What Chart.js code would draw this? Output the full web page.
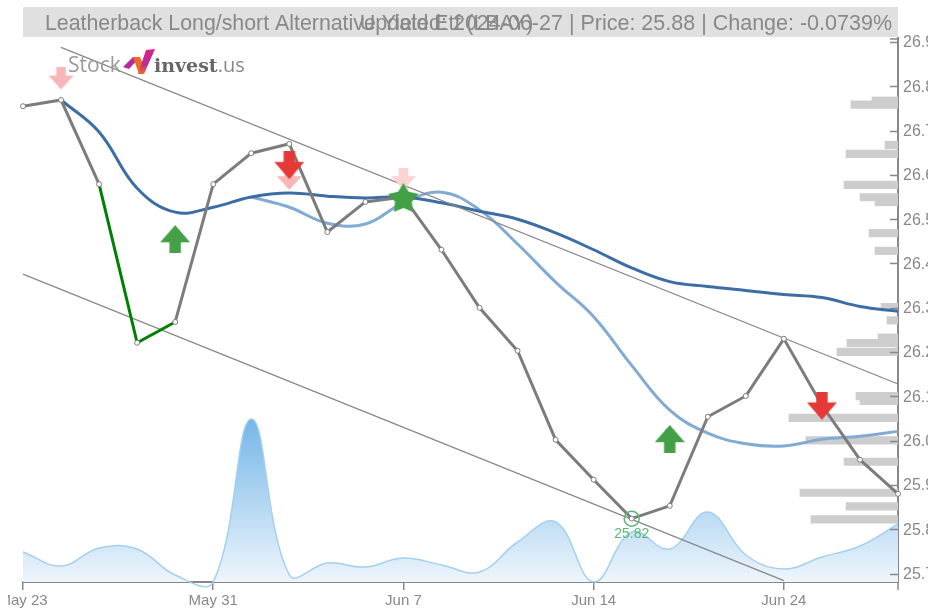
<!DOCTYPE html>
<html>
<head>
<meta charset="utf-8">
<style>
  html, body { margin: 0; padding: 0; background: #fff; overflow: hidden; }
  #chart_container { position: absolute; left: 8px; top: 0; width: 920px; height: 610px; }
</style>
</head>
<body>
<canvas id="chart_container" width="920" height="610"></canvas>
<script src="https://cdn.jsdelivr.net/npm/chart.js@4/dist/chart.umd.min.js"></script>
<script>
const dates = ['May 23', 'May 24', 'May 28', 'May 29', 'May 30', 'May 31', 'Jun 3', 'Jun 4', 'Jun 5', 'Jun 6', 'Jun 7', 'Jun 10',
  'Jun 11', 'Jun 12', 'Jun 13', 'Jun 14', 'Jun 17', 'Jun 18', 'Jun 20', 'Jun 21', 'Jun 24', 'Jun 25', 'Jun 26', 'Jun 27']
const date_ticks = [0, 5, 10, 15, 20]
const price_ticks = [25.7, 25.8, 25.9, 26.0, 26.1, 26.2, 26.3, 26.4, 26.5, 26.6, 26.7, 26.8, 26.9]

const close_price = [26.755, 26.769, 26.579, 26.221, 26.268, 26.579, 26.649, 26.67, 26.471, 26.539, 26.55, 26.431,
  26.30, 26.203, 26.002, 25.912, 25.824, 25.853, 26.054, 26.101, 26.23, 26.08, 25.957, 25.88]
const slow_ma = [null, 26.769, 26.697, 26.57, 26.516, 26.527, 26.55, 26.559, 26.552, 26.548, 26.55, 26.537, 26.518,
  26.50, 26.469, 26.431, 26.39, 26.359, 26.348, 26.339, 26.33, 26.323, 26.303, 26.292]
const fast_ma = [null, null, null, null, null, null, 26.55, 26.527, 26.491, 26.489, 26.537, 26.561, 26.521,
  26.444, 26.358, 26.28, 26.17, 26.069, 26.017, 25.993, 25.988, 26.003, 26.01, 26.021]
const volume = [300, 160, 340, 330, 70, 0, 1630, 70, 190, 150, 240, 170, 100, 400, 600, 0, 500, 330, 700, 270, 130, 250, 360, 580]

const upper_trend = [null, 26.888, null, null, null, null, null, null, null, null, null, null,
  null, null, null, null, null, null, null, null, null, null, null, 26.128]
const lower_trend = [26.376, null, null, null, null, null, null, null, null, null, null, null,
  null, null, null, null, null, null, null, null, 25.684]

const profile_price = [26.776, 26.767, 26.676, 26.656, 26.586, 26.558, 26.547, 26.477, 26.437, 26.31, 26.28, 26.241,
  26.229, 26.209, 26.109, 26.098, 26.06, 26.009, 25.961, 25.891, 25.86, 25.831]
const profile_volume = [26, 47, 13, 52, 54, 38, 23, 29, 23, 17, 11, 20, 51, 61, 42, 38, 109, 92, 54, 98, 52, 87]

const buy_signal = [null, null, null, null, 26.455, null, null, null, null, null, null, null,
  null, null, null, null, null, 26.004]
const sell_signal = [null, null, null, null, null, null, null, 26.622, null, null, null, null,
  null, null, null, null, null, null, null, null, null, 26.079]
const weak_sell = [null, 26.818, null, null, null, null, null, 26.591]
const faint_sell = [null, null, null, null, null, null, null, null, null, null, 26.591]
const star_signal = [null, null, null, null, null, null, null, null, null, null, 26.548]
const low_marker = [null, null, null, null, null, null, null, null, null, null, null, null,
  null, null, null, null, 25.824]
const green_segments = [2, 3]

const title_left = 'Leatherback Long/short Alternative Yield Etf (LBAY)'
const title_right = 'Updated: 2024-06-27 | Price: 25.88 | Change: -0.0739%'

function arrowImage(color, w, h, up){
  const c = document.createElement('canvas')
  c.width = w
  c.height = h
  const g = c.getContext('2d')
  if(up){
    g.translate(0, h)
    g.scale(1, -1)
  }
  const head = h * 0.38
  const body = w * 0.19
  g.fillStyle = color
  g.beginPath()
  g.moveTo(w / 2 - body, 0)
  g.lineTo(w / 2 + body, 0)
  g.lineTo(w / 2 + body, head)
  g.lineTo(w, head)
  g.lineTo(w / 2, h)
  g.lineTo(0, head)
  g.lineTo(w / 2 - body, head)
  g.closePath()
  g.fill()
  return c
}

function starImage(color, size){
  const c = document.createElement('canvas')
  c.width = size
  c.height = size
  const g = c.getContext('2d')
  g.fillStyle = color
  g.beginPath()
  for(let i = 0; i < 10; i++){
    const r = i % 2 == 0 ? size / 2 : size / 3.6
    const a = -Math.PI / 2 + i * Math.PI / 5
    g.lineTo(size / 2 + r * Math.cos(a), size / 2 + 1 + r * Math.sin(a))
  }
  g.closePath()
  g.fill()
  return c
}

function marker(data, image){
  return {
    type: 'line', data: data, showLine: false, order: 0, xAxisID: 'x', yAxisID: 'y',
    pointStyle: image, pointRadius: 10, clip: false
  }
}

function polygon(ctx, color, points){
  ctx.fillStyle = color
  ctx.beginPath()
  points.forEach(p => ctx.lineTo(p[0], p[1]))
  ctx.closePath()
  ctx.fill()
}

const frame = {
  id: 'frame',
  beforeDraw(chart){
    const { ctx } = chart
    ctx.save()
    ctx.fillStyle = '#e0e0e0'
    ctx.fillRect(15, 7, 875, 30)
    ctx.restore()
  },
  afterDatasetsDraw(chart){
    const { ctx, scales, chartArea } = chart
    const y = scales.y
    ctx.save()
    ctx.strokeStyle = '#888'
    ctx.lineWidth = 1.5
    price_ticks.forEach(v => {
      const p = Math.round(y.getPixelForValue(v)) + 0.5
      ctx.beginPath()
      ctx.moveTo(chartArea.right - 8, p)
      ctx.lineTo(chartArea.right, p)
      ctx.stroke()
    })
    ctx.beginPath()
    ctx.moveTo(chartArea.right - 8, chartArea.top + 1)
    ctx.lineTo(chartArea.right, chartArea.top + 1)
    ctx.moveTo(chartArea.right, chartArea.bottom)
    ctx.lineTo(chartArea.right, chartArea.bottom + 8)
    ctx.stroke()

    // header text
    ctx.fillStyle = '#888'
    ctx.font = '21.33px "Liberation Sans"'
    ctx.textBaseline = 'alphabetic'
    ctx.textAlign = 'left'
    ctx.fillText(title_left, 37, 30)
    ctx.font = '21.5px "Liberation Sans"'
    ctx.textAlign = 'right'
    ctx.fillText(title_right, 884, 30)

    // logo
    ctx.textAlign = 'left'
    ctx.fillStyle = '#999'
    ctx.font = '21px "Open Sans"'
    ctx.fillText('Stock', 60, 72)
    const stroke_fill = ctx.createLinearGradient(0, 49, 0, 74)
    stroke_fill.addColorStop(0, '#dc2088')
    stroke_fill.addColorStop(0.6, '#b82c98')
    stroke_fill.addColorStop(1, '#f26a21')
    polygon(ctx, '#b32b9c', [[115, 67], [125, 57], [132, 57], [121, 69]])
    polygon(ctx, '#f26a21', [[125, 57], [132, 57], [137, 69], [131, 74]])
    polygon(ctx, stroke_fill, [[138, 50], [147, 49], [136, 74], [130, 74]])
    ctx.fillStyle = '#666'
    ctx.font = 'bold 19px "DejaVu Serif"'
    ctx.fillText('invest', 146, 72)
    const w = ctx.measureText('invest').width
    ctx.fillStyle = '#888'
    ctx.font = '20px "Open Sans"'
    ctx.fillText('.us', 146 + w, 72)

    // label of the low
    ctx.fillStyle = '#5cb870'
    ctx.font = '14px "Liberation Sans"'
    ctx.textAlign = 'center'
    ctx.fillText(low_marker[16].toFixed(2), scales.x.getPixelForValue(16), 538)
    ctx.restore()
  }
}

const canvas = document.getElementById('chart_container')
const area_fill = canvas.getContext('2d').createLinearGradient(0, 418, 0, 582)
area_fill.addColorStop(0, '#74b6e6')
area_fill.addColorStop(1, '#eef5fc')

new Chart(canvas, {
  data: {
    labels: dates,
    datasets: [
      marker(buy_signal, arrowImage('#43a047', 30, 28, true)),
      marker(sell_signal, arrowImage('#e53935', 30, 28, false)),
      marker(star_signal, starImage('#43a047', 32)),
      marker(faint_sell, arrowImage('#fbd3d3', 25, 22, false)),
      marker(weak_sell, arrowImage('#f8b6b6', 25, 22, false)),
      {
        type: 'line', data: low_marker, showLine: false, order: 0, yAxisID: 'y',
        pointRadius: 7.5, pointBorderWidth: 1.5, pointBorderColor: '#5cb870', pointBackgroundColor: 'rgba(0,0,0,0)'
      },
      {
        type: 'line', data: close_price, order: 1, yAxisID: 'y', tension: 0, borderWidth: 3, borderColor: '#7c7c7c',
        pointRadius: 2.5, pointBorderWidth: 1, pointBorderColor: '#7c7c7c', pointBackgroundColor: '#fff', clip: false,
        segment: {
          borderColor: ctx => green_segments.includes(ctx.p0DataIndex) ? '#008000' : undefined
        }
      },
      { type: 'line', data: upper_trend, order: 2, yAxisID: 'y', spanGaps: true, tension: 0, borderWidth: 1.3, borderColor: '#888', pointRadius: 0 },
      { type: 'line', data: lower_trend, order: 2, yAxisID: 'y', spanGaps: true, tension: 0, borderWidth: 1.3, borderColor: '#888', pointRadius: 0 },
      { type: 'line', data: slow_ma, order: 3, yAxisID: 'y', tension: 0.4, borderWidth: 3, borderColor: '#3c6ea5', pointRadius: 0 },
      { type: 'line', data: fast_ma, order: 4, yAxisID: 'y', tension: 0.4, borderWidth: 3, borderColor: '#82abd3', pointRadius: 0 },
      {
        type: 'line', data: volume, order: 5, yAxisID: 'volume', tension: 0.4, capBezierPoints: false, borderWidth: 1.5, borderColor: '#a3d0ef',
        pointRadius: 0, fill: 'origin', backgroundColor: area_fill, clip: false
      },
      {
        type: 'bar', indexAxis: 'y', order: 6, xAxisID: 'profile', yAxisID: 'y', backgroundColor: '#cdcdcd', barThickness: 7.5,
        data: profile_price.map((p, i) => ({ y: p, x: profile_volume[i] }))
      }
    ]
  },
  options: {
    responsive: false,
    animation: false,
    layout: { padding: { left: 15, top: 38, right: 0, bottom: 0 } },
    plugins: { legend: { display: false }, title: { display: false }, tooltip: { enabled: false } },
    scales: {
      x: {
        type: 'category',
        offset: false,
        position: 'bottom',
        grid: { drawOnChartArea: false, color: '#888', tickLength: 8, lineWidth: 1.5, offset: false },
        border: { color: '#888', width: 2 },
        ticks: { color: '#888', font: { family: 'Liberation Sans', size: 15 }, autoSkip: false, maxRotation: 0, padding: 2 },
        afterBuildTicks: axis => { axis.ticks = date_ticks.map(i => ({ value: i })) },
        afterFit: axis => { axis.height = 28; axis.paddingLeft = 0; axis.paddingRight = 0 }
      },
      y: {
        type: 'linear',
        position: 'right',
        offset: false,
        min: 25.681,
        max: 26.909,
        grid: { drawOnChartArea: false, drawTicks: false, offset: false },
        border: { color: '#888', width: 2 },
        ticks: {
          color: '#888', font: { family: 'Liberation Sans', size: 16 }, padding: 5, labelOffset: 1,
          callback: v => v.toFixed(1)
        },
        afterBuildTicks: axis => { axis.ticks = price_ticks.map(v => ({ value: v })) },
        afterFit: axis => { axis.width = 30; axis.paddingTop = 0; axis.paddingBottom = 0 }
      },
      volume: { type: 'linear', display: false, min: 0, max: 5440 },
      profile: { type: 'linear', display: false, position: 'bottom', reverse: true, min: 0, max: 875 }
    }
  },
  plugins: [frame]
})
</script>
</body>
</html>
